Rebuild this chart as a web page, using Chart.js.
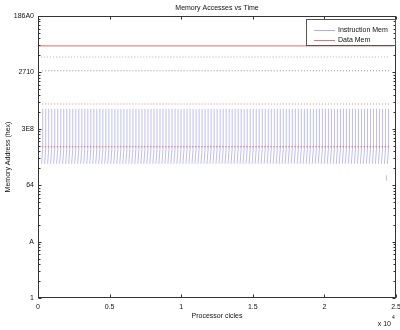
<!DOCTYPE html>
<html><head><meta charset="utf-8">
<script src="https://cdn.jsdelivr.net/npm/chart.js@4.4.1/dist/chart.umd.min.js"></script>
<style>html,body{margin:0;padding:0;background:#fff}#wrap{width:400px;height:330px;position:relative}</style>
</head><body><div id="wrap"><canvas id="c" width="400" height="330"></canvas></div>
<script>
// ---- data ----
const seriesNames = ['Instruction Mem', 'Data Mem'];
// processor cycle at which each loop iteration starts
const loopStarts = [250,460,670,880,1090,1300,1510,1720,1930,2140,2350,2560,2770,2980,3190,3400,3610,3820,4030,4240,4450,4660,4870,5080,5290,5500,5710,5920,6130,6340,6550,6760,6970,7180,7390,7600,7810,8020,8230,8440,8650,8860,9070,9280,9490,9700,9910,10120,10330,10540,10750,10960,11170,11380,11590,11800,12010,12220,12430,12640,12850,13060,13270,13480,13690,13900,14110,14320,14530,14740,14950,15160,15370,15580,15790,16000,16210,16420,16630,16840,17050,17260,17470,17680,17890,18100,18310,18520,18730,18940,19150,19360,19570,19780,19990,20200,20410,20620,20830,21040,21250,21460,21670,21880,22090,22300,22510,22720,22930,23140,23350,23560,23770,23980,24190,24400];
// instruction addresses inside one iteration
const instrLoopLow = 240;
const instrLoopTop = 440;
const instrCallAddr = 2260;
const loopBodyCycles = 80;
// a late access to low instruction memory
const lateInstrCycle = [24330, 24330];
const lateInstrAddr = [120, 150];
// data memory
const stackAddr = 29500;
const runStart = 0, runEnd = 24800;
const dataRowHigh = 18700;
const dataRowMid = 10700;
const dataRowCall = 2750;
const dataRowLoop = 480;
const dataLoopCycles = 110;
// ticks
const yTickValues = [1, 10, 100, 1000, 10000, 100000];
const xTickValues = [0, 5000, 10000, 15000, 20000, 25000];
const xTickScale = 1e4;

// ---- build datasets ----
const instrPts = [];
loopStarts.forEach(t => {
  instrPts.push({x: t, y: instrLoopLow}, {x: t + loopBodyCycles, y: instrLoopTop},
    {x: t + loopBodyCycles, y: instrCallAddr}, {x: t + loopBodyCycles, y: null});
});
instrPts.push({x: lateInstrCycle[0], y: lateInstrAddr[0]}, {x: lateInstrCycle[1], y: lateInstrAddr[1]});

const loopRowPts = [];
loopStarts.forEach(t => { loopRowPts.push({x: t, y: dataRowLoop}, {x: t + dataLoopCycles, y: dataRowLoop}, {x: t + dataLoopCycles, y: null}); });
const callRowPts = loopStarts.map(t => ({x: t + loopBodyCycles, y: dataRowCall}));
const highRowPts = loopStarts.map(t => ({x: t, y: dataRowHigh}));
const midRowPts = loopStarts.map(t => ({x: t + loopBodyCycles, y: dataRowMid}));

const FONT = '"Liberation Sans", Arial, sans-serif';

const frame = {
  id: 'frame',
  afterDatasetsDraw(chart) {
    const {ctx, chartArea: a, scales: {x, y}} = chart;
    ctx.save();
    ctx.strokeStyle = '#333'; ctx.lineWidth = 1;
    const L = Math.round(a.left) + 0.5, R = Math.round(a.right) - 0.5;
    const T = Math.round(a.top) + 0.5, B = Math.round(a.bottom) - 0.5;
    ctx.strokeRect(L, T, R - L, B - T);
    ctx.beginPath();
    xTickValues.forEach(v => {
      const px = Math.round(x.getPixelForValue(v)) + 0.5;
      ctx.moveTo(px, B); ctx.lineTo(px, B - 3);
      ctx.moveTo(px, T); ctx.lineTo(px, T + 3);
    });
    for (let d = 0; d < yTickValues.length; d++) {
      const base = yTickValues[d];
      const py = Math.round(y.getPixelForValue(base)) + 0.5;
      ctx.moveTo(L, py); ctx.lineTo(L + 3, py);
      ctx.moveTo(R, py); ctx.lineTo(R - 3, py);
      if (d < yTickValues.length - 1) {
        for (let m = 2; m <= 9; m++) {
          const pm = Math.round(y.getPixelForValue(base * m)) + 0.5;
          ctx.moveTo(L, pm); ctx.lineTo(L + 2, pm);
          ctx.moveTo(R, pm); ctx.lineTo(R - 2, pm);
        }
      }
    }
    ctx.stroke();

    // legend
    const lx = 306.5, ly = 19.5, lw = 89, lh = 26;
    ctx.strokeStyle = '#555';
    ctx.strokeRect(lx, ly, lw, lh);
    const items = [
      {label: seriesNames[0], color: 'rgba(90,90,230,0.5)', y: 30.5},
      {label: seriesNames[1], color: 'rgba(230,50,50,0.7)', y: 40.5}
    ];
    ctx.font = '7px ' + FONT; ctx.fillStyle = '#111'; ctx.textBaseline = 'middle'; ctx.textAlign = 'left';
    items.forEach(it => {
      ctx.strokeStyle = it.color; ctx.beginPath(); ctx.moveTo(314, it.y); ctx.lineTo(335, it.y); ctx.stroke();
      ctx.fillText(it.label, 338, it.y);
    });
    ctx.restore();
  },
  afterDraw(chart) {
    const {ctx, chartArea: a} = chart;
    ctx.save();
    ctx.fillStyle = '#111'; ctx.textBaseline = 'middle'; ctx.textAlign = 'center';
    ctx.font = '7px ' + FONT;
    ctx.fillText('Memory Accesses vs Time', (a.left + a.right) / 2, 8.5);
    ctx.fillText('Processor cicles', (a.left + a.right) / 2, 316);
    ctx.save();
    ctx.translate(8, (a.top + a.bottom) / 2); ctx.rotate(-Math.PI / 2);
    ctx.fillText('Memory Address (hex)', 0, 0);
    ctx.restore();
    ctx.textAlign = 'right';
    ctx.fillText('x 10', 391, 324);
    ctx.font = '5px ' + FONT; ctx.textAlign = 'left';
    ctx.fillText('4', 392, 318);
    ctx.restore();
  }
};

new Chart(document.getElementById('c'), {
  type: 'line',
  data: {
    datasets: [
      {label: seriesNames[0], data: instrPts, borderColor: 'rgba(80,80,225,0.42)', borderWidth: 0.9, pointRadius: 0, spanGaps: false, order: 3},
      {label: seriesNames[1], data: [{x: runStart, y: stackAddr}, {x: runEnd, y: stackAddr}], borderColor: 'rgba(225,50,50,0.75)', borderWidth: 1, pointRadius: 0, order: 1},
      {label: 'rowLoop', data: loopRowPts, borderColor: 'rgba(225,60,60,0.65)', borderWidth: 1, pointRadius: 0, spanGaps: false, order: 1},
      {label: 'rowCall', data: callRowPts, showLine: false, pointStyle: 'rect', pointRadius: 0.7, pointBorderWidth: 0, pointBackgroundColor: 'rgba(220,80,80,0.7)', order: 1},
      {label: 'rowHigh', data: highRowPts, showLine: false, pointStyle: 'rect', pointRadius: 0.7, pointBorderWidth: 0, pointBackgroundColor: 'rgba(170,150,160,0.8)', order: 1},
      {label: 'rowMid', data: midRowPts, showLine: false, pointStyle: 'rect', pointRadius: 0.7, pointBorderWidth: 0, pointBackgroundColor: 'rgba(120,120,130,0.8)', order: 1}
    ]
  },
  options: {
    responsive: false, animation: false, devicePixelRatio: 1,
    layout: {padding: {top: 16, right: 4, left: 0, bottom: 0}},
    plugins: {legend: {display: false}, title: {display: false}, tooltip: {enabled: false}},
    scales: {
      x: {
        type: 'linear', min: 0, max: 25000,
        afterBuildTicks: s => { s.ticks = xTickValues.map(v => ({value: v})); },
        afterFit: s => { s.height = 32; s.paddingLeft = 0; s.paddingRight = 0; },
        ticks: {callback: v => String(v / xTickScale), font: {size: 7, family: FONT}, color: '#111', padding: 5, maxRotation: 0, autoSkip: false},
        grid: {display: false, drawTicks: false}, border: {display: false}
      },
      y: {
        type: 'logarithmic', min: 1, max: 100000,
        afterBuildTicks: s => { s.ticks = yTickValues.map(v => ({value: v})); },
        afterFit: s => { s.width = 38; s.paddingTop = 0; s.paddingBottom = 0; },
        ticks: {callback: v => Number(v).toString(16).toUpperCase(), font: {size: 7, family: FONT}, color: '#111', padding: 4, autoSkip: false},
        grid: {display: false, drawTicks: false}, border: {display: false}
      }
    }
  },
  plugins: [frame]
});
</script></body></html>
